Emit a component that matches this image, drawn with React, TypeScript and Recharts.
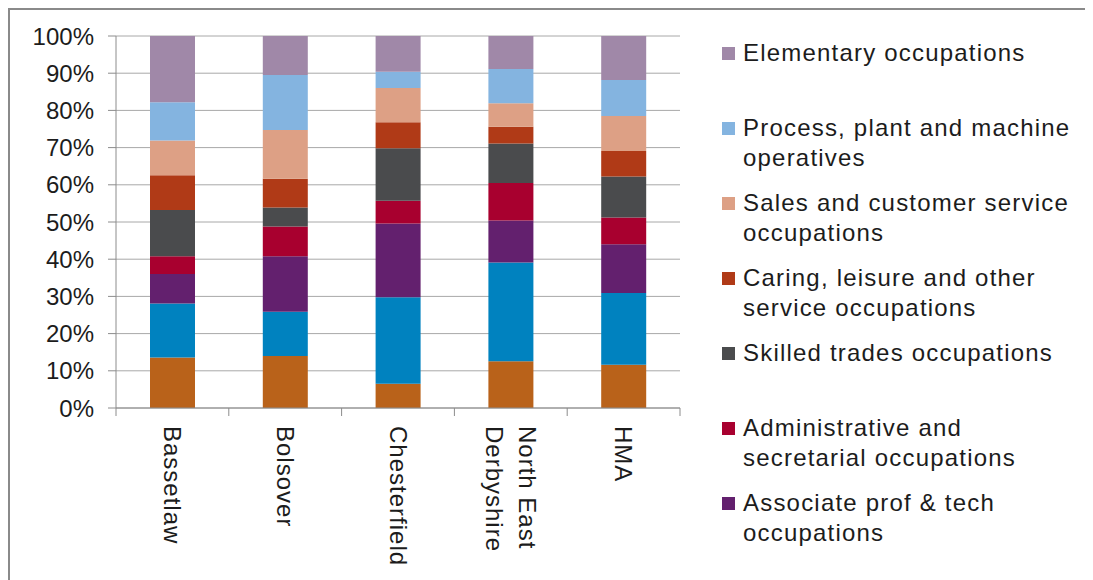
import React from "react";
import { BarChart, Bar, XAxis, YAxis, CartesianGrid } from "recharts";

const categories = ["Bassetlaw", "Bolsover", "Chesterfield", "North East Derbyshire", "HMA"];

const managers = [13.6, 14.0, 6.5, 12.6, 11.6];
const professional = [14.5, 11.9, 23.3, 26.5, 19.3];
const associate = [7.9, 14.9, 19.8, 11.3, 13.1];
const admin = [4.8, 8.0, 6.1, 10.1, 7.2];
const skilled = [12.4, 5.1, 14.1, 10.6, 11.0];
const caring = [9.4, 7.7, 7.0, 4.5, 6.9];
const sales = [9.3, 13.1, 9.2, 6.3, 9.4];
const processOps = [10.3, 14.8, 4.4, 9.2, 9.7];
const elementary = [17.8, 10.5, 9.6, 8.9, 11.8];

const yTicks = [0, 0.1, 0.2, 0.3, 0.4, 0.5, 0.6, 0.7, 0.8, 0.9, 1];

// bottom of the stack first
const series = [
  { key: "managers", name: "Managers, directors and senior officials", color: "#B9621A", values: managers, legend: false },
  { key: "professional", name: "Professional occupations", color: "#0082BF", values: professional, legend: false },
  { key: "associate", name: "Associate prof & tech occupations", color: "#63206E", values: associate, legend: true },
  { key: "admin", name: "Administrative and secretarial occupations", color: "#A8002F", values: admin, legend: true },
  { key: "skilled", name: "Skilled trades occupations", color: "#4A4B4D", values: skilled, legend: true },
  { key: "caring", name: "Caring, leisure and other service occupations", color: "#B03A17", values: caring, legend: true },
  { key: "sales", name: "Sales and customer service occupations", color: "#DDA085", values: sales, legend: true },
  { key: "process", name: "Process, plant and machine operatives", color: "#84B4E0", values: processOps, legend: true },
  { key: "elementary", name: "Elementary occupations", color: "#A088A8", values: elementary, legend: true },
];

const data = categories.map((c, i) => {
  const row: Record<string, string | number> = { name: c };
  series.forEach((s) => (row[s.key] = s.values[i]));
  return row;
});

const FONT = "'Liberation Sans', Arial, sans-serif";
const TEXT = "#1c1c1c";
const AXIS = "#8c8c8c";

function wrap(label: string, max = 12) {
  const words = label.split(" ");
  const lines: string[] = [];
  let cur = "";
  words.forEach((w) => {
    const next = cur ? cur + " " + w : w;
    if (next.length > max && cur) {
      lines.push(cur);
      cur = w;
    } else cur = next;
  });
  if (cur) lines.push(cur);
  return lines;
}

function CategoryTick(props: any) {
  const { x, y, payload, index, visibleTicksCount } = props;
  const count = visibleTicksCount || categories.length;
  const step = props.width ? props.width / count : 112.8;
  const lines = wrap(String(payload.value));
  const lh = 33;
  return (
    <g>
      <line x1={x - step / 2} x2={x - step / 2} y1={y} y2={y + 8} stroke={AXIS} />
      {index === count - 1 && (
        <line x1={x + step / 2} x2={x + step / 2} y1={y} y2={y + 8} stroke={AXIS} />
      )}
      <text
        transform={`translate(${x},${y + 18}) rotate(90)`}
        textAnchor="start"
        fill={TEXT}
        fontSize={24}
        letterSpacing={1}
        fontFamily={FONT}
      >
        {lines.map((l, i) => (
          <tspan key={i} x={0} y={(i - (lines.length - 1) / 2) * lh} dy="0.35em">
            {l}
          </tspan>
        ))}
      </text>
    </g>
  );
}

function LegendBox() {
  const items = series.filter((s) => s.legend).reverse();
  return (
    <div style={{ position: "absolute", left: 712, top: 28, fontFamily: FONT, color: TEXT }}>
      {items.map((s) => (
        <div key={s.key} style={{ display: "flex", height: 75, alignItems: "flex-start" }}>
          <div style={{ width: 13, height: 13, background: s.color, marginTop: 9, marginRight: 8, flexShrink: 0 }} />
          <div style={{ width: 345, fontSize: 24, lineHeight: "30px", letterSpacing: 1.2 }}>{s.name}</div>
        </div>
      ))}
    </div>
  );
}

export default function App() {
  return (
    <div
      style={{
        position: "relative",
        width: 1083,
        height: 570,
        borderLeft: "2px solid #8a8a8a",
        borderTop: "2px solid #8a8a8a",
        background: "#fff",
      }}
    >
      <BarChart
        width={1083}
        height={570}
        data={data}
        stackOffset="expand"
        margin={{ top: 26, right: 413, bottom: 0, left: 0 }}
        barSize={45}
      >
        <CartesianGrid vertical={false} stroke="#a8a8a8" />
        <YAxis
          width={106}
          domain={[0, 1]}
          ticks={yTicks}
          tickFormatter={(v: number) => `${Math.round(v * 100)}%`}
          tickSize={8}
          tickMargin={14}
          axisLine={{ stroke: AXIS }}
          tickLine={{ stroke: AXIS }}
          tick={{ fill: TEXT, fontSize: 24, fontFamily: FONT }}
          interval={0}
        />
        <XAxis
          dataKey="name"
          height={172}
          tickSize={0}
          tickMargin={0}
          axisLine={{ stroke: AXIS }}
          tickLine={false}
          tick={<CategoryTick />}
          interval={0}
        />
        {series.map((s) => (
          <Bar key={s.key} dataKey={s.key} name={s.name} stackId="a" fill={s.color} isAnimationActive={false} />
        ))}
      </BarChart>
      <LegendBox />
    </div>
  );
}
